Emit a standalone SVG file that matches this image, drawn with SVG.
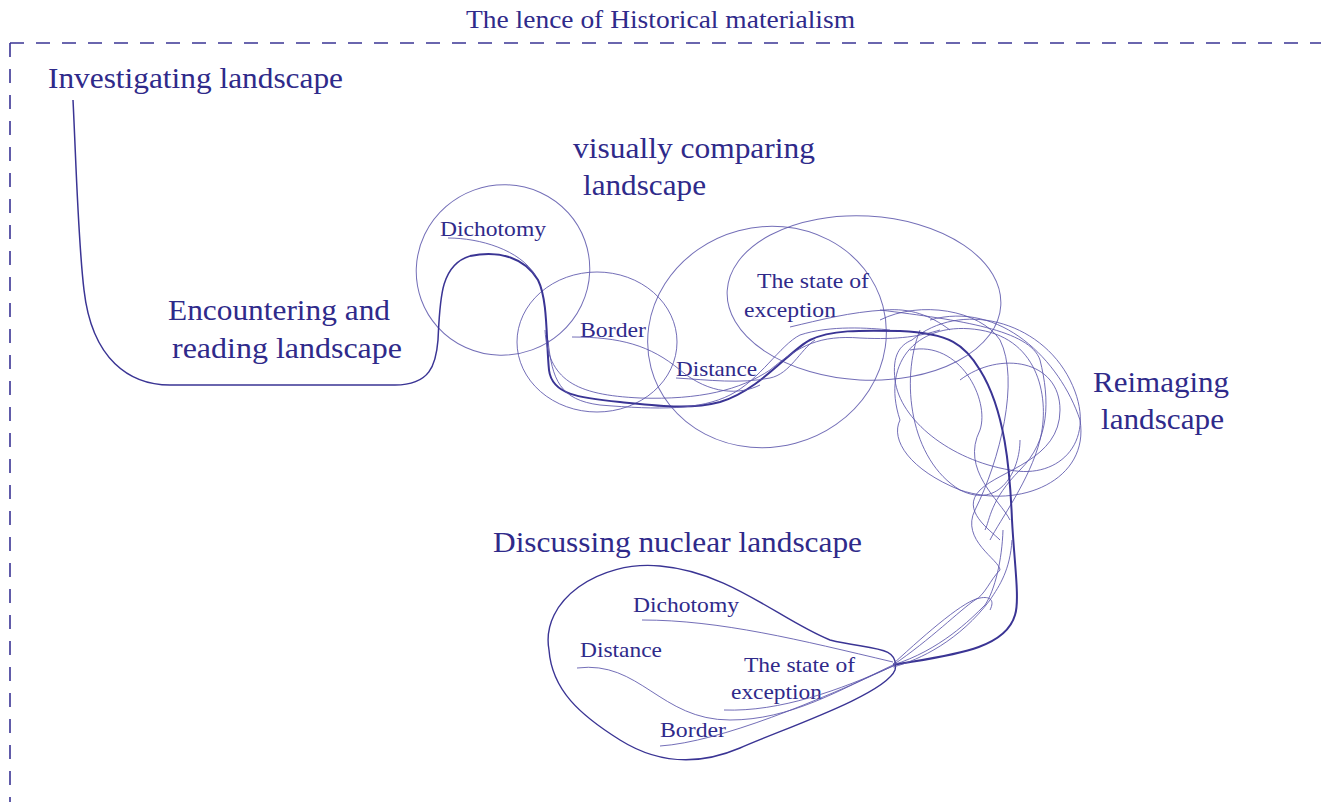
<svg xmlns="http://www.w3.org/2000/svg" width="1321" height="802" viewBox="0 0 1321 802">
<style>
.t{font-family:"Liberation Serif","Times New Roman",serif;fill:#2f2a8a}
.big{font-size:30px}
.sm{font-size:22px}
.ttl{font-size:25px}
.thin{fill:none;stroke:#5a55aa;stroke-width:1;stroke-opacity:0.85}
.main{fill:none;stroke:#3a3494;stroke-width:2}
.frame{fill:none;stroke:#3a3494;stroke-width:1.6;stroke-dasharray:14 12}
</style>
<rect width="1321" height="802" fill="#fff"/>
<g id="frame">
<path class="frame" d="M10 43 H1321"/>
<path class="frame" d="M10 43 V802"/>
<text class="t ttl" x="466" y="28" textLength="389" lengthAdjust="spacingAndGlyphs">The lence of Historical materialism</text>
</g>
<g id="labels">
<text class="t big" x="48" y="88" textLength="295" lengthAdjust="spacingAndGlyphs">Investigating landscape</text>
<text class="t big" x="573" y="158" textLength="242" lengthAdjust="spacingAndGlyphs">visually comparing</text>
<text class="t big" x="583" y="195" textLength="123" lengthAdjust="spacingAndGlyphs">landscape</text>
<text class="t big" x="168" y="320" textLength="222" lengthAdjust="spacingAndGlyphs">Encountering and</text>
<text class="t big" x="172" y="358" textLength="230" lengthAdjust="spacingAndGlyphs">reading landscape</text>
<text class="t big" x="1093" y="392" textLength="136" lengthAdjust="spacingAndGlyphs">Reimaging</text>
<text class="t big" x="1101" y="429" textLength="123" lengthAdjust="spacingAndGlyphs">landscape</text>
<text class="t big" x="493" y="552" textLength="369" lengthAdjust="spacingAndGlyphs">Discussing nuclear landscape</text>
</g>
<g id="upper-nodes">
<g id="dichotomy1">
<ellipse class="thin" cx="503" cy="270" rx="87" ry="85" transform="rotate(-20 503 270)"/>
<text class="t sm" x="440" y="236" textLength="106" lengthAdjust="spacingAndGlyphs">Dichotomy</text>
</g>
<g id="border1">
<ellipse class="thin" cx="597" cy="342" rx="80" ry="70"/>
<text class="t sm" x="580" y="337" textLength="66" lengthAdjust="spacingAndGlyphs">Border</text>
</g>
<g id="distance1">
<ellipse class="thin" cx="767" cy="337" rx="120" ry="110" transform="rotate(-15 767 337)"/>
<text class="t sm" x="676" y="376" textLength="81" lengthAdjust="spacingAndGlyphs">Distance</text>
</g>
<g id="exception1">
<ellipse class="thin" cx="864" cy="298" rx="137" ry="82" transform="rotate(3 864 298)"/>
<text class="t sm" x="757" y="288" textLength="112" lengthAdjust="spacingAndGlyphs">The state of</text>
<text class="t sm" x="744" y="317" textLength="92" lengthAdjust="spacingAndGlyphs">exception</text>
</g>
<g id="reimaging">
<path class="thin" d="M912 340 C960 300 1040 320 1070 380 C1100 440 1060 480 1010 470 C950 460 900 420 895 380 C892 355 900 345 912 340Z"/>
<path class="thin" d="M900 420 C880 360 920 320 980 330 C1040 340 1050 400 1040 440 C1030 480 1000 520 990 540"/>
<path class="thin" d="M930 320 C1000 300 1060 360 1080 420 C1090 480 1020 510 960 490 C910 470 890 440 900 420"/>
<path class="thin" d="M920 330 C900 380 910 460 960 490 C1000 510 1020 470 1020 440"/>
<path class="thin" d="M960 380 C1000 350 1060 360 1060 410 C1060 460 1000 470 980 490 C960 510 990 530 1000 540"/>
<path class="thin" d="M910 350 C960 340 990 400 980 430 C960 470 1000 500 1010 520"/>
<path class="thin" d="M880 320 C920 300 980 310 1000 340 C1020 380 1000 460 975 510 C960 540 1000 560 1000 570"/>
<path class="thin" d="M880 310 C960 320 1030 330 1040 360 C1050 400 1050 440 1020 470 C990 500 990 520 985 530"/>
</g>
</g>
<g id="lower-nodes">
<g id="nuclear-blob">
<path class="main" style="stroke-width:1.4" d="M549 650 C540 600 600 560 660 566 C730 572 780 620 830 640 C870 650 900 645 895 670 C885 695 780 730 740 748 C700 765 660 765 620 740 C580 715 552 690 549 650Z"/>
</g>
<g id="dichotomy2"><text class="t sm" x="633" y="612" textLength="106" lengthAdjust="spacingAndGlyphs">Dichotomy</text></g>
<g id="distance2"><text class="t sm" x="580" y="657" textLength="82" lengthAdjust="spacingAndGlyphs">Distance</text></g>
<g id="exception2"><text class="t sm" x="744" y="672" textLength="111" lengthAdjust="spacingAndGlyphs">The state of</text><text class="t sm" x="731" y="699" textLength="91" lengthAdjust="spacingAndGlyphs">exception</text></g>
<g id="border2"><text class="t sm" x="660" y="737" textLength="66" lengthAdjust="spacingAndGlyphs">Border</text></g>
</g>
<g id="connectors">
<path class="main" style="stroke-width:1.5" d="M73 100 C76 160 78 240 84 290 C92 360 130 385 170 385 L395 385 C430 385 436 365 438 340 C440 300 440 265 470 256"/>
<path class="main" d="M470 256 C500 250 525 258 538 280 C548 300 546 340 549 370 C552 395 580 398 620 402 C660 406 690 410 720 402 C760 390 790 350 810 340 C830 330 860 330 900 331 C950 333 965 345 980 370 C1005 410 1010 470 1012 520 C1014 560 1020 600 1015 615 C1005 650 950 655 893 665"/>
<path class="thin" d="M448 238 C480 238 520 250 535 275"/>
<path class="thin" d="M572 337 C620 337 650 345 680 370 C710 395 740 395 760 385"/>
<path class="thin" d="M676 378 C710 380 740 384 770 378 C790 374 800 350 815 340"/>
<path class="thin" d="M548 340 C552 380 560 400 600 405 C660 410 700 410 730 395 C760 380 780 345 800 335 C830 325 870 328 890 330"/>
<path class="thin" d="M545 330 C548 380 575 395 640 398 C700 400 740 390 770 370 C800 345 820 335 860 338 C900 340 920 336 940 330"/>
<path class="thin" d="M790 327 C820 320 850 312 885 310 C910 308 930 315 950 330"/>
<path class="thin" d="M642 620 C720 620 800 640 893 662"/>
<path class="thin" d="M577 668 C640 660 660 720 730 720 C790 720 840 690 893 665"/>
<path class="thin" d="M724 710 C780 712 840 690 893 666"/>
<path class="thin" d="M660 746 C720 742 820 700 893 666"/>
<path class="thin" d="M893 665 C930 640 960 610 975 600 C985 595 990 580 1000 570"/>
<path class="thin" d="M893 665 C940 650 970 620 985 605 C995 590 1002 560 1003 530"/>
<path class="thin" d="M893 667 C920 660 960 640 990 600 C1000 585 1010 570 1012 540"/>
<path class="thin" d="M893 664 C930 630 965 600 980 598 C990 596 995 600 990 610"/>
</g>
</svg>
